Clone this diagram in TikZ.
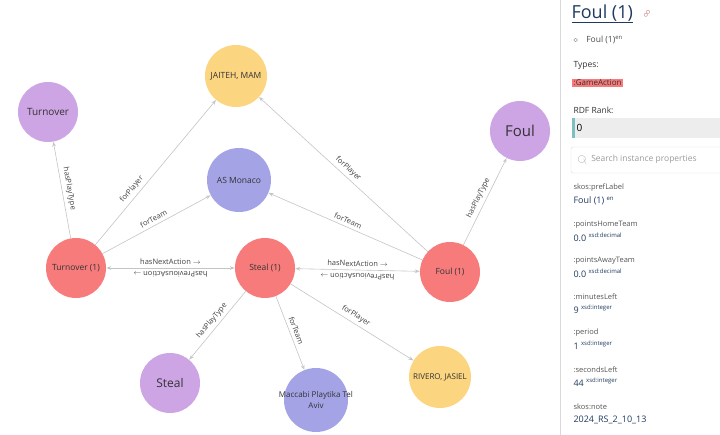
\documentclass[tikz,border=0pt]{standalone}
\usepackage{fontspec}
\setmainfont{Open Sans}
\usetikzlibrary{arrows.meta}
\definecolor{actred}{HTML}{F77B7B}
\definecolor{typepurple}{HTML}{CDA4E4}
\definecolor{teamblue}{HTML}{A3A3E6}
\definecolor{playeryellow}{HTML}{FCD581}
\definecolor{edgegray}{HTML}{C4C4C4}
\definecolor{linkblue}{HTML}{1F3A5F}
\definecolor{labgray}{HTML}{555555}
\tikzset{
  ent/.style={circle,minimum size=#1,inner sep=1pt,align=center,font=\fontsize{8.5}{10}\selectfont,text=black!80},
  ent/.default=60pt,
  act/.style={ent,fill=actred},
  ptype/.style={ent,fill=typepurple},
  team/.style={ent=64pt,fill=teamblue},
  player/.style={ent=62pt,fill=playeryellow},
  rel/.style={draw=edgegray,line width=0.6pt,-{Stealth[length=5pt,open]}},
  biRel/.style={draw=edgegray,line width=0.6pt,{Stealth[length=5pt,open]}-{Stealth[length=5pt,open]}},
  rellab/.style={sloped,font=\fontsize{7.5}{9}\selectfont,text=black!75,above=0pt},
  backlab/.style={rellab,rotate=180},
  prop/.style={anchor=west,font=\fontsize{7.5}{9}\selectfont,text=labgray},
  val/.style={anchor=west,font=\fontsize{9}{10}\selectfont,text=linkblue},
}
\begin{document}
\begin{tikzpicture}[x=1pt,y=-1pt]
  \useasboundingbox (0,0) rectangle (720,435);
  % graph nodes
  \node[ptype=78pt] (turnover) at (48,112) {\fontsize{10}{12}\selectfont Turnover};
  \node[player] (jaiteh) at (236,76) {JAITEH, MAM};
  \node[ptype=64pt] (foul) at (520,131) {\fontsize{15}{18}\selectfont Foul};
  \node[team] (monaco) at (239,180) {AS Monaco};
  \node[act] (turnact) at (76,268) {Turnover (1)};
  \node[act] (stealact) at (265,268) {Steal (1)};
  \node[act] (foulact) at (450,272) {Foul (1)};
  \node[ptype=64pt] (steal) at (170,383) {\fontsize{12}{14}\selectfont Steal};
  \node[team,label={[align=center,font=\fontsize{8}{11}\selectfont,text=black!80]center:Maccabi Playtika Tel\\Aviv}] (maccabi) at (316,400) {};
  \node[player,font=\fontsize{8}{10}\selectfont] (rivero) at (440,377) {RIVERO, JASIEL};

  % edges
  \draw[rel] (turnact) -- node[rellab] {hasPlayType} (turnover);
  \draw[rel] (turnact) -- node[rellab,pos=0.35] {forPlayer} (jaiteh);
  \draw[rel] (turnact) -- node[rellab] {forTeam} (monaco);
  \draw[rel] (foulact) -- node[rellab] {hasPlayType} (foul);
  \draw[rel] (foulact) -- node[rellab] {forPlayer} (jaiteh);
  \draw[rel] (foulact) -- node[rellab] {forTeam} (monaco);
  \draw[rel] (stealact) -- node[rellab] {hasPlayType} (steal);
  \draw[rel] (stealact) -- node[rellab] {forTeam} (maccabi);
  \draw[rel] (stealact) -- node[rellab] {forPlayer} (rivero);
  \draw[biRel] (turnact) -- node[rellab] {hasNextAction $\rightarrow$} node[backlab] {hasPreviousAction $\rightarrow$} (stealact);
  \draw[biRel] (stealact) -- node[rellab] {hasNextAction $\rightarrow$} node[backlab] {hasPreviousAction $\rightarrow$} (foulact);

  % side panel
  \draw[black!15,line width=1pt] (560,0) -- (560,435);
  \node[anchor=west,font=\fontsize{18}{20}\selectfont,text=linkblue] (title) at (568,14) {\underline{Foul (1)}};
  \node[anchor=west,xshift=3pt,text=actred!80!black,font=\fontsize{9}{10}\selectfont] (linkic) at (title.east) {\rotatebox{45}{$\circ\!\circ$}};
  \node[prop,font=\fontsize{8.5}{10}\selectfont,text=black!70] (lbl) at (570,40) {$\diamond$\quad Foul (1)\textsuperscript{en}};
  \node[prop,font=\fontsize{8.5}{10}\selectfont,text=black!80] (types) at (570,65) {Types:};
  \node[anchor=west,fill=actred,inner sep=1.5pt,font=\fontsize{8}{9}\selectfont,text=black!80] (gtype) at (572,83) {:GameAction};
  \node[prop,font=\fontsize{8.5}{10}\selectfont,text=black!80] (rank) at (570,110) {RDF Rank:};
  \fill[black!7] (572,118) rectangle (720,138);
  \fill[teal!50] (572,118) rectangle (575,138);
  \node[anchor=west,font=\fontsize{10}{10}\selectfont] (rankv) at (573,128) {0};
  \draw[black!15,rounded corners=2pt] (571,147) rectangle (725,173);
  \node[prop,font=\fontsize{8.5}{10}\selectfont,text=black!40] (search) at (574,160) {$\bigcirc$\kern-3pt\raisebox{-2pt}{$\scriptstyle\backslash$}\ \ Search instance properties};
  \node[prop] (p1) at (570,188) {skos:prefLabel};
  \node[val] (v1) at (570,201) {Foul (1) \textsuperscript{en}};
  \node[prop] (p2) at (570,225) {:pointsHomeTeam};
  \node[val] (v2) at (570,237) {0.0 \textsuperscript{xsd:decimal}};
  \node[prop] (p3) at (570,261) {:pointsAwayTeam};
  \node[val] (v3) at (570,273) {0.0 \textsuperscript{xsd:decimal}};
  \node[prop] (p4) at (570,297) {:minutesLeft};
  \node[val] (v4) at (570,309) {9 \textsuperscript{xsd:integer}};
  \node[prop] (p5) at (570,333) {:period};
  \node[val] (v5) at (570,345) {1 \textsuperscript{xsd:integer}};
  \node[prop] (p6) at (570,370) {:secondsLeft};
  \node[val] (v6) at (570,382) {44 \textsuperscript{xsd:integer}};
  \node[prop] (p7) at (570,407) {skos:note};
  \node[val] (v7) at (570,420) {2024\_RS\_2\_10\_13};
\end{tikzpicture}
\end{document}
